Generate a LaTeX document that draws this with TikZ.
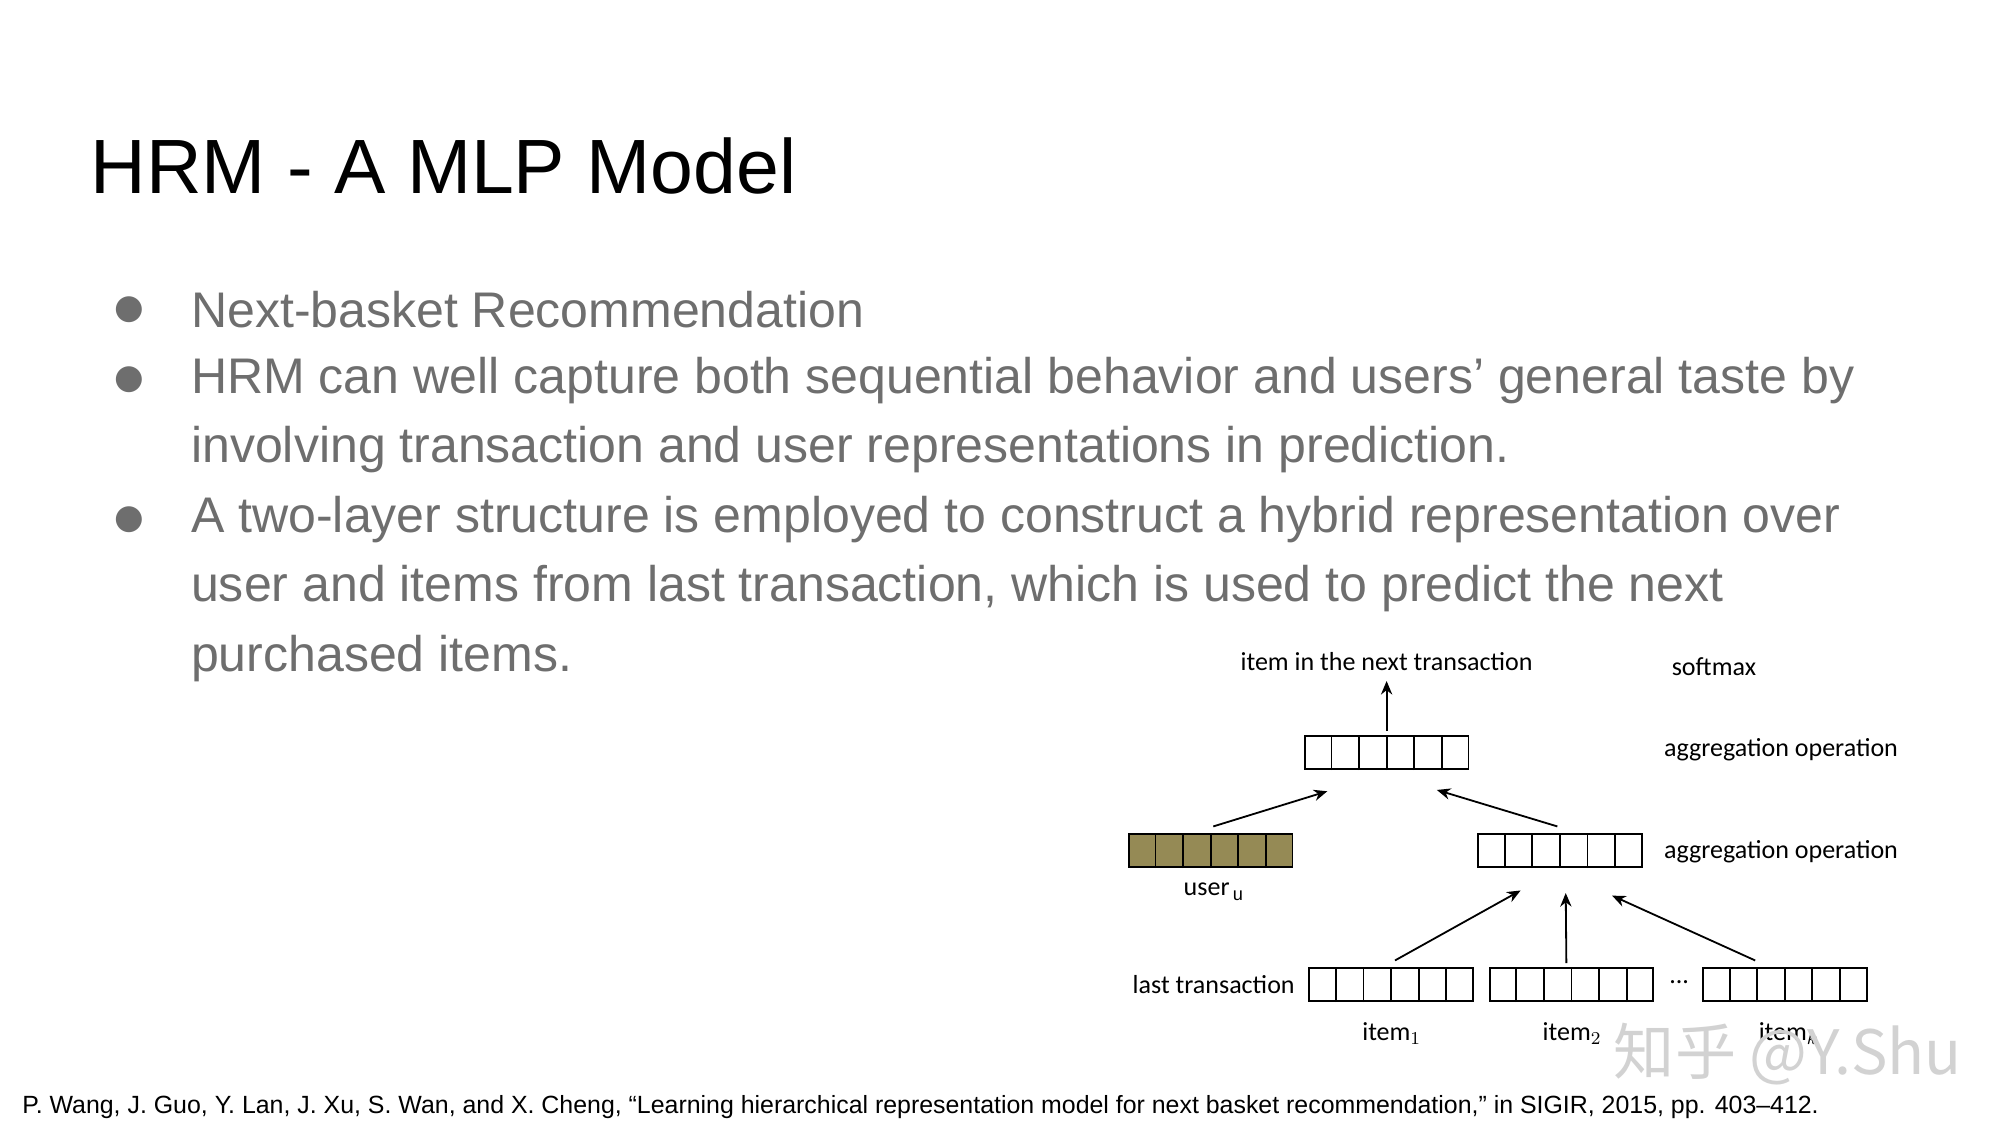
\documentclass[tikz,border=0pt]{standalone}
\usepackage{fontspec}
\setmainfont{Liberation Sans}
\newfontfamily\calib{Carlito}
\newfontfamily\cjk{Noto Sans CJK SC}
\newfontfamily\dejavu{DejaVu Sans}
\usetikzlibrary{calc,arrows.meta}
\definecolor{olive}{HTML}{958A55}
\definecolor{txtgray}{HTML}{6E6E6E}
\tikzset{
 vec/.style={draw,thick,minimum width=2.54cm,minimum height=0.52cm,inner sep=0pt},
 lab/.style={font=\calib\fontsize{11.5}{13}\selectfont,inner sep=0pt},
 arr/.style={-{Stealth[length=6pt,width=5pt]},thick},
 bul/.style={font=\fontsize{22.1}{26}\selectfont,text=txtgray,anchor=west,inner sep=0pt}
}
\newcommand{\cellsplit}[1]{\foreach \k in {1,...,5}{\draw[thick] ($(#1.south west)!\k/6!(#1.south east)$) -- ($(#1.north west)!\k/6!(#1.north east)$);}}
\begin{document}
\begin{tikzpicture}[x=0.02cm,y=-0.02cm]
\useasboundingbox (0,0) rectangle (1552,873);
\fill[white] (0,0) rectangle (1552,873);
\node[anchor=base west,inner sep=0pt,font=\fontsize{34}{40}\selectfont] (title) at (70,150) {HRM - A MLP Model};
\foreach \y in {240,295,403}{\node[text=txtgray,font=\dejavu\fontsize{15}{18}\selectfont] at (100,\y) {●};}
\node[bul] (b1) at (148,240) {Next-basket Recommendation};
\node[bul] (b2) at (148,295) {HRM can well capture both sequential behavior and users’ general taste by};
\node[bul] (b2b) at (148,349) {involving transaction and user representations in prediction.};
\node[bul] (b3) at (148,403) {A two-layer structure is employed to construct a hybrid representation over};
\node[bul] (b3b) at (148,457) {user and items from last transaction, which is used to predict the next};
\node[bul] (b3c) at (148,511) {purchased items.};
% diagram
\node[vec] (top) at (1076,584) {};
\node[vec,fill=olive] (user) at (939.5,660) {};
\node[vec] (mid) at (1210.5,660) {};
\node[vec] (i1) at (1079.5,764) {};
\node[vec] (i2) at (1219.5,764) {};
\node[vec] (ik) at (1385,764) {};
\foreach \n in {top,user,mid,i1,i2,ik}{\cellsplit{\n}}
\node[lab] (next) at (1076,513) {item in the next transaction};
\node[lab] (soft) at (1330,517) {softmax};
\node[lab,anchor=west] (agg1) at (1291,582) {aggregation operation};
\node[lab,anchor=west] (agg2) at (1291,661) {aggregation operation};
\node[lab] (ulab) at (942,692) {user$_{\,\mathrm{u}}$};
\node[lab,anchor=east] (last) at (1005,764) {last transaction};
\node[lab] (dots) at (1303,762) {...};
\node[lab] (l1) at (1080,802) {item$_1$};
\node[lab] (l2) at (1220,802) {item$_2$};
\node[lab] (lk) at (1388,802) {item$_k$};
\coordinate (a1) at (1030,614); \coordinate (a2) at (1115,613);
\coordinate (m1) at (1180,691); \coordinate (m2) at (1215,693); \coordinate (m3) at (1251,695);
\draw[arr] (1076,567) -- ($(next.south)+(0,8)$);
\draw[arr] ($(user.north)+(2,-5)$) -- (a1);
\draw[arr] ($(mid.north)+(-2,-5)$) -- (a2);
\draw[arr] ($(i1.north)+(3,-5)$) -- (m1);
\draw[arr] ($(i2.north)+(-4,-3)$) -- (m2);
\draw[arr] ($(ik.north)+(-23,-5)$) -- (m3);
\node[anchor=west,text=gray!35,font=\cjk\fontsize{27}{30}\selectfont,inner sep=0pt] (wm) at (1252,818) {知乎 @Y.Shu};
\node[anchor=base west,inner sep=0pt,font=\fontsize{11}{12}\selectfont] (ref) at (17,864) {P. Wang, J. Guo, Y. Lan, J. Xu, S. Wan, and X. Cheng, “Learning hierarchical representation model for next basket recommendation,” in SIGIR, 2015, pp. 403–412.};
\end{tikzpicture}
\end{document}
